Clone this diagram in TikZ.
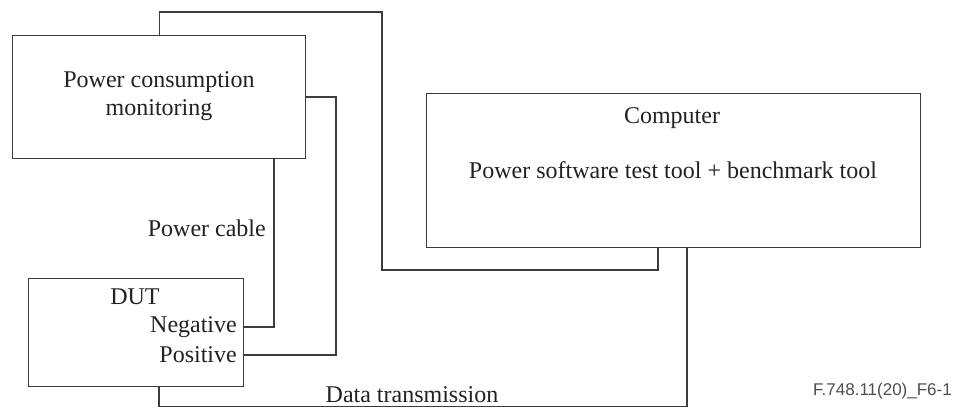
\documentclass[tikz,border=0pt]{standalone}
\usepackage{fontspec}
\setmainfont{Liberation Serif}
\newfontfamily\labelfont{Liberation Sans}
\definecolor{linec}{HTML}{3C3C3C}
\definecolor{textc}{HTML}{222222}
\begin{document}
\begin{tikzpicture}[x=1pt,y=-1pt,
  box/.style={draw=linec,line width=1.4pt,inner sep=0pt,anchor=north west},
  txt/.style={text=textc,inner sep=0pt,font=\fontsize{24}{28}\selectfont},
  wire/.style={draw=linec,line width=1.4pt}]
\useasboundingbox[fill=white] (0,0) rectangle (954,408);
% boxes
\node[box,minimum width=293pt,minimum height=123pt] (pcm) at (12,35) {};
\node[box,minimum width=494pt,minimum height=154pt] (comp) at (426,93) {};
\node[box,minimum width=215pt,minimum height=108pt] (dut) at (28,278) {};
% texts
\node[txt,align=center] (pcmtxt) at (159,96) {Power consumption\\monitoring};
\node[txt] (comptxt) at (672,118) {Computer};
\node[txt] (tooltxt) at (673,170) {Power software test tool + benchmark tool};
\node[txt] (duttxt) at (135,297) {DUT};
\node[txt,anchor=east] (negtxt) at (237,327) {Negative};
\node[txt,anchor=east] (postxt) at (237,355) {Positive};
\node[txt,anchor=east] (cable) at (266,228) {Power cable};
\node[txt] (datatxt) at (412,395) {Data transmission};
\node[inner sep=0pt,anchor=east,text=textc!80,font=\labelfont\fontsize{17}{20}\selectfont] (figlab) at (952,391) {F.748.11(20)\_F6-1};
% coordinates
\coordinate (t1) at (382,12);
\coordinate (t2) at (658,270);
\coordinate (px) at (336,97);
\coordinate (nx) at (274,0);
\coordinate (dx) at (687,406.5);
\coordinate (dx2) at (159,406.5);
% connectors
\draw[wire] (pcm.north) |- (t1) |- (t2) -- (t2 |- comp.south);
\draw[wire] (pcm.east |- px) -- (px) |- (dut.east |- postxt);
\draw[wire] (pcm.south -| nx) |- (dut.east |- negtxt);
\draw[wire] (comp.south -| dx) -- (dx) -- (dx2) -- (dx2 |- dut.south);
\end{tikzpicture}
\end{document}
